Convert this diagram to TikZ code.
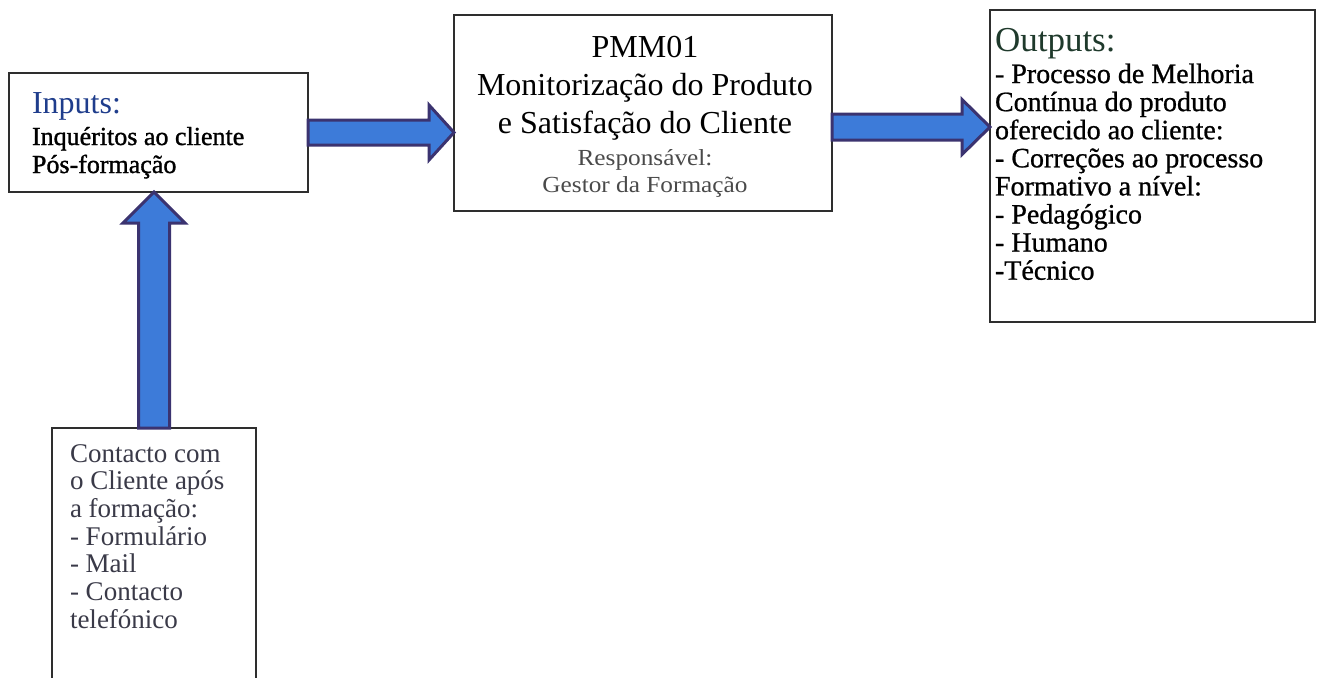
\documentclass[tikz,border=0pt]{standalone}
\usepackage{fontspec}
\setmainfont{Liberation Serif}
\newfontfamily\wideserif{Liberation Serif}[FakeStretch=1.1]
\newfontfamily\darkserif{Liberation Serif}[FakeBold=1.2]
\newfontfamily\semiserif{Liberation Serif}[FakeBold=0.8]
\usetikzlibrary{calc}
\definecolor{arrowfill}{HTML}{3D7BD9}
\definecolor{arrowline}{HTML}{3B3370}
\definecolor{boxline}{HTML}{2E2E2E}
\definecolor{inblue}{HTML}{1F3D8C}
\definecolor{outgreen}{HTML}{1F3A2C}
\definecolor{greytext}{HTML}{4A4A4A}
\definecolor{bottext}{HTML}{3A3A48}
\tikzset{
  box/.style={draw=boxline, line width=1.6pt, inner sep=0pt, outer sep=0pt, anchor=north west, fill=white},
  fatarrow/.style={fill=arrowfill, draw=arrowline, line width=3pt, line join=miter},
  txt/.style={anchor=north west, inner sep=0pt, outer sep=0pt, align=left},
  ctxt/.style={anchor=north, inner sep=0pt, outer sep=0pt, align=center},
}
% horizontal fat arrow: from, to, shaft half width, head half width, head length
\newcommand{\fatH}[5]{%
  \draw[fatarrow] let \p1=(#1), \p2=(#2) in
    (\x1,\y1+#3) -- (\x2-#5,\y1+#3) -- (\x2-#5,\y1+#4) -- (\x2,\y1)
    -- (\x2-#5,\y1-#4) -- (\x2-#5,\y1-#3) -- (\x1,\y1-#3) -- cycle;}
% upward fat arrow
\newcommand{\fatV}[5]{%
  \draw[fatarrow] let \p1=(#1), \p2=(#2) in
    (\x1-#3,\y1) -- (\x1-#3,\y2-#5) -- (\x1-#4,\y2-#5) -- (\x1,\y2)
    -- (\x1+#4,\y2-#5) -- (\x1+#3,\y2-#5) -- (\x1+#3,\y1) -- cycle;}
\begin{document}
\begin{tikzpicture}[x=1pt,y=-1pt]
\clip (0,0) rectangle (1319,677);
\fill[white] (0,0) rectangle (1319,677);
% boxes
\node[box, minimum width=299pt, minimum height=119pt] (inp) at (9,73) {};
\node[box, minimum width=378pt, minimum height=196pt] (mid) at (454,15) {};
\node[box, minimum width=325pt, minimum height=312pt] (out) at (990,10) {};
\node[box, minimum width=204pt, minimum height=280pt] (bot) at (52,428) {};
% arrows
\coordinate (ya) at (0,132.5);
\coordinate (yb) at (0,127);
\coordinate (a1) at (inp.east |- ya);
\coordinate (a2) at (mid.west |- ya);
\coordinate (b1) at (mid.east |- yb);
\coordinate (b2) at (out.west |- yb);
\coordinate (c1) at (bot.north);
\coordinate (c2) at (inp.south -| bot.north);
\fatH{a1}{a2}{12.5pt}{27.5pt}{25pt}
\fatH{b1}{b2}{13pt}{27.5pt}{28pt}
\fatV{c1}{c2}{15.5pt}{31pt}{31pt}
% texts
\node[txt, font=\fontsize{32}{34}\selectfont, text=inblue] (inpT) at (32,81) {\rule{0pt}{32pt}Inputs:};
\node[txt, font=\darkserif\fontsize{26}{28}\selectfont] (inpB) at (32,119) {\rule{0pt}{26pt}Inquéritos ao cliente\\Pós-formação};
\node[ctxt, font=\fontsize{32}{38}\selectfont] (midT) at (645,25) {\rule{0pt}{32pt}PMM01\\Monitorização do Produto\\e Satisfação do Cliente};
\node[ctxt, font=\wideserif\fontsize{23}{27}\selectfont, text=greytext] (midR) at (645,142) {\rule{0pt}{23pt}Responsável:\\Gestor da Formação};
\node[txt, font=\fontsize{35}{36}\selectfont, text=outgreen] (outT) at (995,17) {\rule{0pt}{35pt}Outputs:};
\node[txt, font=\semiserif\fontsize{28}{28.1}\selectfont] (outB) at (995,55) {\rule{0pt}{28pt}- Processo de Melhoria\\Contínua do produto\\oferecido ao cliente:\\- Correções ao processo\\Formativo a nível:\\- Pedagógico\\- Humano\\-Técnico};
\node[txt, font=\fontsize{27}{27.7}\selectfont, text=bottext] (botT) at (70,435) {\rule{0pt}{27pt}Contacto com\\o Cliente após\\a formação:\\- Formulário\\- Mail\\- Contacto\\telefónico};
\end{tikzpicture}
\end{document}
